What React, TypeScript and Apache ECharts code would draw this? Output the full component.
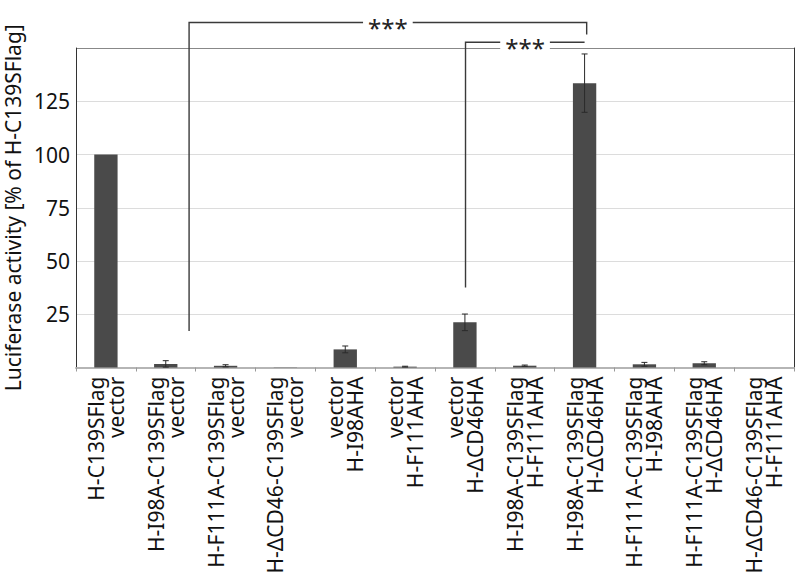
import React, { useEffect, useRef } from 'react';
import * as echarts from 'echarts';

// Category labels: first line = Flag construct, second line = HA construct
const flagConstructs = [
  'H-C139SFlag', 'H-I98A-C139SFlag', 'H-F111A-C139SFlag', 'H-ΔCD46-C139SFlag',
  'vector', 'vector', 'vector',
  'H-I98A-C139SFlag', 'H-I98A-C139SFlag', 'H-F111A-C139SFlag', 'H-F111A-C139SFlag', 'H-ΔCD46-C139SFlag',
];
const haConstructs = [
  'vector', 'vector', 'vector', 'vector',
  'H-I98AHA', 'H-F111AHA', 'H-ΔCD46HA',
  'H-F111AHA', 'H-ΔCD46HA', 'H-I98AHA', 'H-ΔCD46HA', 'H-F111AHA',
];
// Luciferase activity [% of H-C139SFlag] and error (±)
const activity = [100, 1.7, 0.8, 0.1, 8.5, 0.4, 21.2, 0.85, 133.5, 1.5, 2.0, 0];
const errors = [0, 1.5, 0.5, 0, 1.6, 0.2, 3.9, 0.3, 13.7, 0.9, 0.7, 0];

// y axis
const yMin = 0;
const yMax = 150;
const yInterval = 25;

// Significance brackets: [fromIndex, fromShift, toIndex, toShift, leftEnd, top, rightEnd]
const bracketOuter = [1, 0.39, 8, 0.035, 17.1, 162, 156.3];
const bracketInner = [6, 0.01, 8, 0, 37.6, 152.7, 152.7];
const bracketLabels = ['***', '***'];

const FONT = '"Noto Sans", "DejaVu Sans", sans-serif';

export default function App() {
  const ref = useRef<HTMLDivElement>(null);

  useEffect(() => {
    document.body.style.margin = '0';
    if (!ref.current) return;
    const chart = echarts.init(ref.current, undefined, { renderer: 'svg' });
    const categories = flagConstructs.map((f, i) => f + '\n' + haConstructs[i]);

    const errData = activity.map((v, i) => [i, v - errors[i], v + errors[i]]);
    const brackets = [bracketOuter, bracketInner].map((b, i) => [...b, i]);

    const option: any = {
      animation: false,
      backgroundColor: '#fff',
      textStyle: { fontFamily: FONT },
      grid: { left: 76, right: 8, top: 48, bottom: 213.5, containLabel: false, outerBoundsMode: 'none' },
      xAxis: {
        type: 'category',
        data: categories,
        axisLine: { show: true, lineStyle: { color: '#b5b5b5', width: 2 } },
        axisTick: { show: true, alignWithLabel: false, length: 4, lineStyle: { color: '#999' } },
        axisLabel: {
          interval: 0,
          rotate: 90,
          fontSize: 21,
          lineHeight: 20,
          margin: 9,
          color: '#111',
          fontFamily: FONT,
        },
        splitLine: { show: false },
      },
      yAxis: [
        {
          type: 'value',
          min: yMin,
          max: yMax,
          interval: yInterval,
          name: 'Luciferase activity [% of H-C139SFlag]',
          nameLocation: 'middle',
          nameGap: 50,
          nameTextStyle: { fontSize: 21, color: '#111', fontFamily: FONT },
          axisLine: { show: true, lineStyle: { color: '#333', width: 1 } },
          axisTick: { show: false },
          axisLabel: {
            fontSize: 21,
            color: '#111',
            margin: 6,
            fontFamily: FONT,
            formatter: (v: number) => (v === yMin || v === yMax ? '' : String(v)),
          },
          splitLine: {
            show: true,
            lineStyle: { color: ['#b5b5b5', '#dcdcdc', '#dcdcdc', '#dcdcdc', '#dcdcdc', '#dcdcdc', '#888'], width: 1 },
          },
        },
        {
          type: 'value',
          min: yMin,
          max: yMax,
          interval: yInterval,
          position: 'right',
          axisLine: { show: true, lineStyle: { color: '#333', width: 1 } },
          axisTick: { show: false },
          axisLabel: { show: false },
          splitLine: { show: false },
        },
      ],
      series: [
        {
          type: 'bar',
          data: activity,
          barWidth: '39%',
          itemStyle: { color: '#4a4a4a' },
          z: 2,
        },
        {
          type: 'custom',
          data: errData,
          z: 3,
          renderItem: (params: any, api: any) => {
            const i = api.value(0);
            const lo = api.value(1);
            const hi = api.value(2);
            if (hi - lo <= 0) return null;
            const x = api.coord([i, 0])[0];
            const yl = api.coord([i, lo])[1];
            const yh = api.coord([i, hi])[1];
            const cap = 3;
            const style = { stroke: '#2a2a2a', lineWidth: 1 };
            return {
              type: 'group',
              children: [
                { type: 'line', shape: { x1: x, y1: yl, x2: x, y2: yh }, style },
                { type: 'line', shape: { x1: x - cap, y1: yh, x2: x + cap, y2: yh }, style },
                { type: 'line', shape: { x1: x - cap, y1: yl, x2: x + cap, y2: yl }, style },
              ],
            };
          },
        },
        {
          type: 'custom',
          data: brackets,
          z: 5,
          clip: false,
          renderItem: (params: any, api: any) => {
            const band = api.size([1, 0])[0];
            const x1 = api.coord([api.value(0), 0])[0] + api.value(1) * band;
            const x2 = api.coord([api.value(2), 0])[0] + api.value(3) * band;
            const yL = api.coord([0, api.value(4)])[1];
            const yT = api.coord([0, api.value(5)])[1];
            const yR = api.coord([0, api.value(6)])[1];
            const label = bracketLabels[api.value(7)];
            return {
              type: 'group',
              children: [
                {
                  type: 'polyline',
                  shape: { points: [[x1, yL], [x1, yT], [x2, yT], [x2, yR]] },
                  style: { stroke: '#3a3a3a', lineWidth: 1.4, fill: null },
                },
                {
                  type: 'text',
                  x: (x1 + x2) / 2,
                  y: yT + 5,
                  style: {
                    text: label,
                    fill: '#222',
                    fontSize: 24,
                    fontFamily: FONT,
                    align: 'center',
                    verticalAlign: 'middle',
                    backgroundColor: '#fff',
                    padding: [0, 5],
                  },
                },
              ],
            };
          },
        },
      ],
    };
    chart.setOption(option);
    return () => chart.dispose();
  }, []);

  return <div ref={ref} style={{ width: 802, height: 581 }} />;
}
